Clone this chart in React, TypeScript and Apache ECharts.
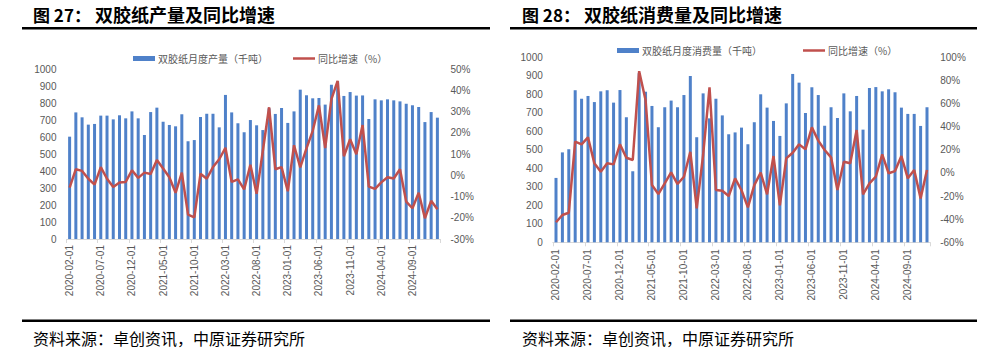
import React, { useEffect, useRef } from "react";
import * as echarts from "echarts";

const leftMonths = [
  "2020-02-01","2020-03-01","2020-04-01","2020-05-01","2020-06-01","2020-07-01","2020-08-01","2020-09-01","2020-10-01","2020-11-01","2020-12-01",
  "2021-01-01","2021-02-01","2021-03-01","2021-04-01","2021-05-01","2021-06-01","2021-07-01","2021-08-01","2021-09-01","2021-10-01","2021-11-01","2021-12-01",
  "2022-01-01","2022-02-01","2022-03-01","2022-04-01","2022-05-01","2022-06-01","2022-07-01","2022-08-01","2022-09-01","2022-10-01","2022-11-01","2022-12-01",
  "2023-01-01","2023-02-01","2023-03-01","2023-04-01","2023-05-01","2023-06-01","2023-07-01","2023-08-01","2023-09-01","2023-10-01","2023-11-01","2023-12-01",
  "2024-01-01","2024-02-01","2024-03-01","2024-04-01","2024-05-01","2024-06-01","2024-07-01","2024-08-01","2024-09-01","2024-10-01","2024-11-01","2024-12-01",
  "2025-01-01"
];
const rightMonths = [
  "2020-02-01","2020-03-01","2020-04-01","2020-05-01","2020-06-01","2020-07-01","2020-08-01","2020-09-01","2020-10-01","2020-11-01","2020-12-01",
  "2021-01-01","2021-02-01","2021-03-01","2021-04-01","2021-05-01","2021-06-01","2021-07-01","2021-08-01","2021-09-01","2021-10-01","2021-11-01","2021-12-01",
  "2022-01-01","2022-02-01","2022-03-01","2022-04-01","2022-05-01","2022-06-01","2022-07-01","2022-08-01","2022-09-01","2022-10-01","2022-11-01","2022-12-01",
  "2023-01-01","2023-02-01","2023-03-01","2023-04-01","2023-05-01","2023-06-01","2023-07-01","2023-08-01","2023-09-01","2023-10-01","2023-11-01","2023-12-01",
  "2024-01-01","2024-02-01","2024-03-01","2024-04-01","2024-05-01","2024-06-01","2024-07-01","2024-08-01","2024-09-01","2024-10-01","2024-11-01","2024-12-01"
];

// 双胶纸月度产量（千吨）
const leftProduction = [
  603,746,717,674,678,727,727,705,729,711,
  752,711,613,748,774,691,672,664,735,576,
  583,719,738,738,658,849,746,682,629,701,
  670,642,770,737,772,684,752,880,847,829,
  831,792,909,928,843,866,845,846,707,823,
  817,823,817,811,797,788,778,689,748,715
];
// 同比增速（%）
const leftYoy = [
  -5.8,2.9,2.1,-1.6,-4.4,3.9,-1.6,-5.5,-3.4,-3.1,
  2.4,-1.2,1.3,0.6,7.2,3.2,-0.9,-8.2,1.3,-18.5,
  -19.8,0.8,-1.6,3.9,7.6,13,-3.1,-1.9,-6.6,5.0,
  -8.7,11.6,32.1,2.9,3.9,-7.5,14.2,3.8,12.7,21,
  33,12.9,35.9,44.5,9,17,10,23.7,-5.3,-6.4,
  -3.3,-0.9,-1.5,2.9,-12.4,-15.5,-8.2,-20.2,-12,-16
];
// 双胶纸月度消费量（千吨）
const rightConsumption = [
  348,486,503,822,776,791,758,816,822,755,
  823,676,384,914,814,737,622,730,766,730,
  796,899,568,805,670,776,686,584,594,620,
  530,649,800,728,656,575,751,910,863,699,
  838,796,630,730,672,805,708,791,609,834,
  839,816,827,811,728,694,694,629,730
];
const rightYoy = [
  -42.7,-36.4,-34.4,27,24.7,30.8,8.3,1,8.3,7.4,
  24.7,13.1,11.2,88,63.1,-10.5,-18.3,-9,0.5,-9.6,
  -3.3,18.3,-30.6,15.5,74,-14.8,-15.4,-20,-4.7,-15,
  -29.8,-10.5,0.2,-18.5,14.6,-28,12.6,17.5,24.7,20.4,
  39.4,27.9,19.8,13.5,-14.8,9.7,8.3,37.1,-18.5,-9,
  -3.3,16.1,-0.3,1.6,14.6,-4.7,2.5,-22,2.5
];

const leftTicks = { min: 0, max: 1000, interval: 100 };
const leftPctTicks = { min: -30, max: 50, interval: 10 };
const rightTicks = { min: 0, max: 1000, interval: 100 };
const rightPctTicks = { min: -60, max: 100, interval: 20 };

const BLUE = "#4f81c9";
const RED = "#c0504d";
const GRAY = "#595959";
const FONT = "Liberation Sans, Arial, sans-serif";
const CJK = "Noto Sans CJK SC";

function xAxisCfg(gridIndex: number, data: string[], margin: number) {
  return {
    type: "category",
    gridIndex,
    data,
    boundaryGap: true,
    axisLine: { show: true, lineStyle: { color: "#d9d9d9", width: 1 } },
    axisTick: { show: true, interval: 4, length: 4, lineStyle: { color: "#d9d9d9" } },
    axisLabel: { interval: 4, rotate: 90, color: GRAY, fontSize: 10, margin, fontFamily: FONT },
    splitLine: { show: false },
  };
}

function yAxisCfg(gridIndex: number, t: { min: number; max: number; interval: number }, pos: string, pct: boolean) {
  return {
    type: "value",
    gridIndex,
    position: pos,
    min: t.min,
    max: t.max,
    interval: t.interval,
    splitLine: { show: false },
    axisLine: { show: false },
    axisTick: { show: false },
    axisLabel: {
      color: GRAY,
      fontSize: 10,
      margin: 10,
      fontFamily: FONT,
      formatter: (v: number) => (pct ? String(v) + "%" : String(v)),
    },
  };
}

function legendItems(x1: number, label1: string, x2: number, label2: string, y: number) {
  return [
    { type: "rect", shape: { x: x1, y: y - 2.5, width: 22, height: 5 }, style: { fill: BLUE } },
    { type: "text", x: x1 + 25, y, style: { text: label1, fill: GRAY, fontSize: 10, fontFamily: CJK, textVerticalAlign: "middle" } },
    { type: "rect", shape: { x: x2, y: y - 1.25, width: 22, height: 2.5 }, style: { fill: RED } },
    { type: "text", x: x2 + 25, y, style: { text: label2, fill: GRAY, fontSize: 10, fontFamily: CJK, textVerticalAlign: "middle" } },
  ];
}

function panelDecor(x0: number, x1: number, tx: number, num: string, title: string) {
  return [
    { type: "text", x: tx, y: 14, style: { text: num, fill: "#000", fontSize: 17, fontWeight: "bold", fontFamily: CJK, textVerticalAlign: "middle" } },
    { type: "text", x: tx + 62, y: 14, style: { text: title, fill: "#000", fontSize: 18, fontWeight: "bold", fontFamily: CJK, textVerticalAlign: "middle" } },
    { type: "rect", shape: { x: x0, y: 27, width: x1 - x0, height: 2.6 }, style: { fill: "#000" } },
    { type: "rect", shape: { x: x0, y: 319.5, width: x1 - x0, height: 2.6 }, style: { fill: "#000" } },
    { type: "text", x: tx, y: 338, style: { text: "资料来源：卓创资讯，中原证券研究所", fill: "#000", fontSize: 16, fontFamily: CJK, textVerticalAlign: "middle" } },
  ];
}

export default function App() {
  const ref = useRef<HTMLDivElement>(null);
  useEffect(() => {
    if (!ref.current) return;
    const chart = echarts.init(ref.current, null, { renderer: "svg" });
    const option = {
      animation: false,
      backgroundColor: "#fff",
      grid: [
        { left: 66.5, top: 69.3, width: 374, height: 169.7 },
        { left: 552.8, top: 57.3, width: 377.4, height: 185 },
      ],
      xAxis: [xAxisCfg(0, leftMonths, 6), xAxisCfg(1, rightMonths, 7)],
      yAxis: [
        yAxisCfg(0, leftTicks, "left", false),
        yAxisCfg(0, leftPctTicks, "right", true),
        yAxisCfg(1, rightTicks, "left", false),
        yAxisCfg(1, rightPctTicks, "right", true),
      ],
      series: [
        { name: "双胶纸月度产量（千吨）", type: "bar", xAxisIndex: 0, yAxisIndex: 0, data: leftProduction, barWidth: 3, itemStyle: { color: BLUE } },
        { name: "同比增速（%）", type: "line", xAxisIndex: 0, yAxisIndex: 1, data: leftYoy, symbol: "none", lineStyle: { color: RED, width: 2.5 }, itemStyle: { color: RED }, z: 5 },
        { name: "双胶纸月度消费量（千吨）", type: "bar", xAxisIndex: 1, yAxisIndex: 2, data: rightConsumption, barWidth: 3, itemStyle: { color: BLUE } },
        { name: "同比增速（%）", type: "line", xAxisIndex: 1, yAxisIndex: 3, data: rightYoy, symbol: "none", lineStyle: { color: RED, width: 2.5 }, itemStyle: { color: RED }, z: 5 },
      ],
      graphic: [
        ...panelDecor(22, 490, 33, "图 27：", "双胶纸产量及同比增速"),
        ...panelDecor(510, 977, 522, "图 28：", "双胶纸消费量及同比增速"),
        ...legendItems(133, "双胶纸月度产量（千吨）", 293, "同比增速（%）", 58.5),
        ...legendItems(617, "双胶纸月度消费量（千吨）", 803, "同比增速（%）", 50.5),
      ],
    };
    chart.setOption(option as any);
    return () => chart.dispose();
  }, []);
  return (
    <div
      ref={ref}
      style={{ position: "absolute", left: 0, top: 0, width: 987, height: 351, background: "#fff" }}
    />
  );
}
